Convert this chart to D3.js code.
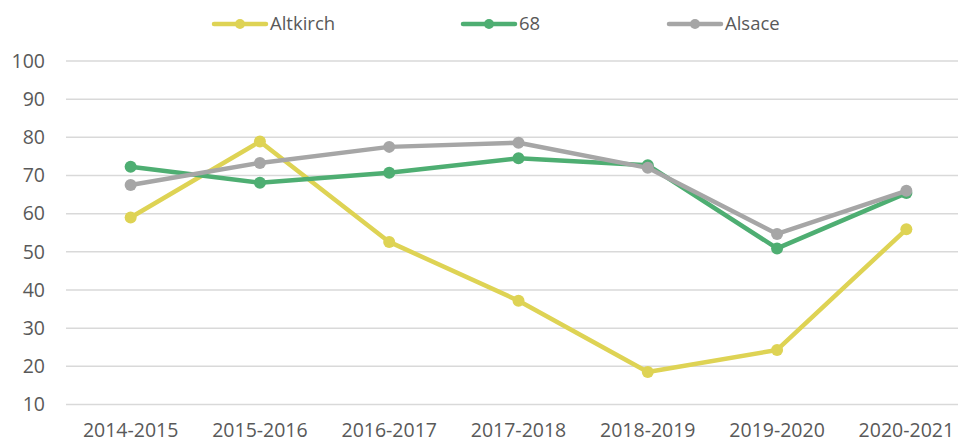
<!DOCTYPE html>
<html>
<head>
<meta charset="utf-8">
<script src="https://cdn.jsdelivr.net/npm/d3@7"></script>
<style>
  body { margin: 0; background: #fff; }
  svg text { font-family: "Open Sans", sans-serif; fill: #595959; }
</style>
</head>
<body>
<div id="chart"></div>
<script>
// Data
var seasons = ["2014-2015", "2015-2016", "2016-2017", "2017-2018", "2018-2019", "2019-2020", "2020-2021"];
var altkirch = [59.0, 78.9, 52.6, 37.2, 18.5, 24.3, 55.9];
var haut_rhin = [72.3, 68.1, 70.7, 74.5, 72.7, 50.9, 65.4];
var alsace = [67.5, 73.3, 77.5, 78.6, 72.0, 54.7, 66.0];
var yTicks = [10, 20, 30, 40, 50, 60, 70, 80, 90, 100];

var series = [
    { name: "Altkirch", values: altkirch, color: "#DED354" },
    { name: "68", values: haut_rhin, color: "#4EAE72" },
    { name: "Alsace", values: alsace, color: "#A6A6A6" }
];

var svgWidth = 958;
var svgHeight = 443;

var svg = d3.select("#chart")
    .append("svg")
    .attr("width", svgWidth)
    .attr("height", svgHeight);

// Scales (plot runs past the right edge like the original crop)
var xScale = d3.scaleBand()
    .domain(seasons)
    .range([66, 971]);

var yScale = d3.scaleLinear()
    .domain([10, 100])
    .range([404.5, 61]);

// Gridlines
svg.append("g")
    .selectAll("line")
    .data(yTicks)
    .enter()
    .append("line")
    .attr("x1", 66)
    .attr("x2", svgWidth)
    .attr("y1", d => yScale(d))
    .attr("y2", d => yScale(d))
    .attr("stroke", "#D9D9D9")
    .attr("stroke-width", 1.5);

// Y axis labels
var yAxis = d3.axisLeft(yScale).tickValues(yTicks).tickSize(0).tickPadding(0);
var yG = svg.append("g")
    .attr("transform", "translate(45, 0)")
    .call(yAxis);
yG.select(".domain").remove();
yG.selectAll("text")
    .attr("font-size", "19.5px")
    .attr("font-family", null)
    .attr("fill", null);

// X axis labels
var xAxis = d3.axisBottom(xScale).tickSize(0).tickPadding(0);
var xG = svg.append("g")
    .attr("transform", "translate(0, 423.5)")
    .call(xAxis);
xG.select(".domain").remove();
xG.selectAll("text")
    .attr("font-size", "19.5px")
    .attr("font-family", null)
    .attr("fill", null);

// Lines and markers
var line = d3.line()
    .x((d, i) => xScale(seasons[i]) + xScale.bandwidth() / 2)
    .y(d => yScale(d));

series.forEach(function (s) {
    var g = svg.append("g");
    g.append("path")
        .datum(s.values)
        .attr("d", line)
        .attr("fill", "none")
        .attr("stroke", s.color)
        .attr("stroke-width", 4.5)
        .attr("stroke-linejoin", "round")
        .attr("stroke-linecap", "round");
    g.selectAll("circle")
        .data(s.values)
        .enter()
        .append("circle")
        .attr("cx", (d, i) => xScale(seasons[i]) + xScale.bandwidth() / 2)
        .attr("cy", d => yScale(d))
        .attr("r", 6)
        .attr("fill", s.color);
});

// Legend
var legendX = [214, 463, 669];
var legend = svg.append("g");
series.forEach(function (s, i) {
    var x0 = legendX[i];
    legend.append("line")
        .attr("x1", x0)
        .attr("x2", x0 + 52)
        .attr("y1", 24)
        .attr("y2", 24)
        .attr("stroke", s.color)
        .attr("stroke-width", 4.5)
        .attr("stroke-linecap", "round");
    legend.append("circle")
        .attr("cx", x0 + 26)
        .attr("cy", 24)
        .attr("r", 5)
        .attr("fill", s.color);
    legend.append("text")
        .attr("x", x0 + 56)
        .attr("y", 24)
        .attr("dy", "0.35em")
        .attr("font-size", "18.5px")
        .text(s.name);
});
</script>
</body>
</html>
